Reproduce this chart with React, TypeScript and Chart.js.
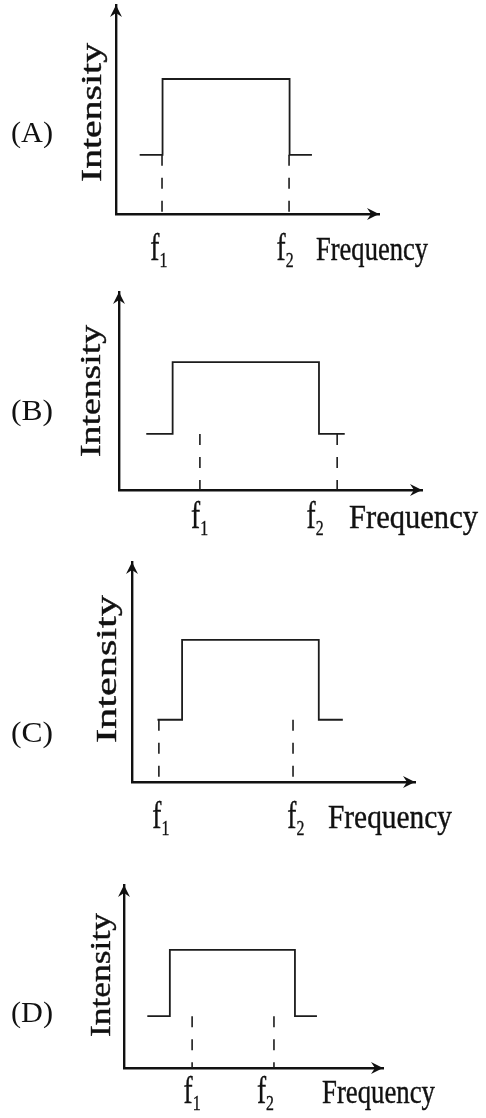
import React, { useEffect, useRef } from "react";
import { Chart, registerables } from "chart.js";

Chart.register(...registerables);

// Band shape shared by every panel: a low shoulder, a step up to a flat top, and back down.
const stepFrequency = [9, 17.7, 17.7, 66, 66, 74.5];
const stepIntensity = [28.3, 28.3, 64.6, 64.6, 28.3, 28.3];
const shoulderLevel = 28.3;

// Where f1 and f2 sit in each option, and where their labels are printed.
const panelNames = ["(A)", "(B)", "(C)", "(D)"];
const f1Marks = [17.5, 26.7, 9.5, 26.3];
const f2Marks = [65.8, 72.0, 56.9, 57.9];
const f1LabelAt = [16.3, 26.6, 10.2, 26.3];
const f2LabelAt = [64.3, 64.7, 57.9, 54.6];
const tickSubscripts = ["1", "2"];
const xTitle = "Frequency";
const yTitle = "Intensity";

const PAGE_W = 486;
const SERIF = '"Liberation Serif", "Times New Roman", serif';
const INK = "#111";

// Page geometry of each panel (canvas strip, axis box, text placement).
const layouts = [
  { top: 0, height: 280, left: 116, right: 379, axisTop: 5, axisBottom: 214, nameBase: 142, labelBase: 260, titleX: 316, titleW: 112, yTitleX: 101, yTitleMid: 112.5, yTitleLen: 139 },
  { top: 280, height: 280, left: 119, right: 422, axisTop: 292, axisBottom: 490, nameBase: 420, labelBase: 528, titleX: 349, titleW: 129, yTitleX: 100, yTitleMid: 391, yTitleLen: 132 },
  { top: 560, height: 300, left: 132, right: 415, axisTop: 562, axisBottom: 782, nameBase: 742, labelBase: 828, titleX: 328, titleW: 124, yTitleX: 116, yTitleMid: 669, yTitleLen: 148 },
  { top: 860, height: 258, left: 124, right: 383, axisTop: 885, axisBottom: 1068, nameBase: 1022, labelBase: 1103, titleX: 322, titleW: 113, yTitleX: 110, yTitleMid: 975, yTitleLen: 124 },
];

// Axis text is filled and given a hairline stroke so it carries the weight of printed type.
function inkText(ctx: CanvasRenderingContext2D, text: string, x: number, y: number, heavy: boolean) {
  ctx.fillText(text, x, y);
  if (heavy) ctx.strokeText(text, x, y);
}

function drawFitted(ctx: CanvasRenderingContext2D, text: string, font: string, x: number, base: number, width: number, heavy: boolean) {
  ctx.save();
  ctx.font = font;
  ctx.textAlign = "left";
  ctx.textBaseline = "alphabetic";
  const w = ctx.measureText(text).width;
  ctx.translate(x, base);
  ctx.scale(width / w, 1);
  inkText(ctx, text, 0, 0, heavy);
  ctx.restore();
}

function drawSubscripted(ctx: CanvasRenderingContext2D, main: string, sub: string, cx: number, base: number) {
  const mainFont = `38px ${SERIF}`;
  const subFont = `22px ${SERIF}`;
  const squeeze = 0.72;
  ctx.save();
  ctx.textAlign = "left";
  ctx.textBaseline = "alphabetic";
  ctx.font = mainFont;
  const mw = ctx.measureText(main).width;
  ctx.font = subFont;
  const sw = ctx.measureText(sub).width;
  const total = (mw + sw) * squeeze;
  ctx.translate(cx - total / 2, base);
  ctx.scale(squeeze, 1);
  ctx.font = mainFont;
  inkText(ctx, main, 0, 0, true);
  ctx.font = subFont;
  inkText(ctx, sub, mw, 7, true);
  ctx.restore();
}

function arrowHead(ctx: CanvasRenderingContext2D, x: number, y: number, dir: "up" | "right") {
  const len = 12;
  const half = 6;
  const notch = 8;
  ctx.beginPath();
  if (dir === "right") {
    ctx.moveTo(x, y);
    ctx.lineTo(x - len, y - half);
    ctx.lineTo(x - notch, y);
    ctx.lineTo(x - len, y + half);
  } else {
    ctx.moveTo(x, y);
    ctx.lineTo(x - half, y + len);
    ctx.lineTo(x, y + notch);
    ctx.lineTo(x + half, y + len);
  }
  ctx.closePath();
  ctx.fill();
}

function decorations(i: number) {
  return {
    id: "bandDecor" + i,
    afterDraw(chart: any) {
      const ctx: CanvasRenderingContext2D = chart.ctx;
      const L = layouts[i];
      const { left, right, top, bottom } = chart.chartArea;
      const xs = chart.scales.x;
      ctx.save();
      ctx.fillStyle = INK;
      ctx.strokeStyle = INK;
      ctx.lineWidth = 0.4;

      arrowHead(ctx, left, top, "up");
      arrowHead(ctx, right, bottom, "right");

      const base = L.labelBase - L.top;
      drawSubscripted(ctx, "f", tickSubscripts[0], xs.getPixelForValue(f1LabelAt[i]), base);
      drawSubscripted(ctx, "f", tickSubscripts[1], xs.getPixelForValue(f2LabelAt[i]), base);
      drawFitted(ctx, xTitle, `33px ${SERIF}`, L.titleX, base, L.titleW, true);

      ctx.save();
      ctx.translate(L.yTitleX, L.yTitleMid - L.top);
      ctx.rotate(-Math.PI / 2);
      ctx.font = `29px ${SERIF}`;
      ctx.textAlign = "center";
      ctx.textBaseline = "alphabetic";
      const w = ctx.measureText(yTitle).width;
      ctx.scale(L.yTitleLen / w, 1);
      inkText(ctx, yTitle, 0, 0, true);
      ctx.restore();

      drawFitted(ctx, panelNames[i], `29px ${SERIF}`, 11, L.nameBase - L.top, 42, false);
      ctx.restore();
    },
  };
}

function Panel({ index }: { index: number }) {
  const ref = useRef<HTMLCanvasElement>(null);
  const L = layouts[index];

  useEffect(() => {
    const canvas = ref.current;
    if (!canvas) return;
    const marker = (f: number) => [
      { x: f, y: shoulderLevel },
      { x: f, y: 0 },
    ];
    const axis = {
      type: "linear" as const,
      min: 0,
      max: 100,
      display: true,
      ticks: { display: false },
      grid: { display: false, drawTicks: false },
      border: { display: true, color: INK, width: 2.4 },
      title: { display: false },
    };
    const chart = new Chart(canvas, {
      type: "line",
      data: {
        datasets: [
          {
            label: "band",
            data: stepFrequency.map((x, k) => ({ x, y: stepIntensity[k] })),
            borderColor: "#1c1c1c",
            borderWidth: 1.8,
            pointRadius: 0,
            fill: false,
            tension: 0,
          },
          {
            label: "f1",
            data: marker(f1Marks[index]),
            borderColor: "#1c1c1c",
            borderWidth: 1.6,
            borderDash: [11, 12],
            pointRadius: 0,
            fill: false,
          },
          {
            label: "f2",
            data: marker(f2Marks[index]),
            borderColor: "#1c1c1c",
            borderWidth: 1.6,
            borderDash: [11, 12],
            pointRadius: 0,
            fill: false,
          },
        ],
      },
      options: {
        animation: false,
        responsive: false,
        devicePixelRatio: 1,
        layout: {
          autoPadding: false,
          padding: {
            left: L.left,
            right: PAGE_W - L.right,
            top: L.axisTop - L.top,
            bottom: L.top + L.height - L.axisBottom,
          },
        },
        plugins: { legend: { display: false }, tooltip: { enabled: false } },
        scales: { x: axis, y: axis },
      },
      plugins: [decorations(index)],
    });
    return () => chart.destroy();
  }, [index]);

  return (
    <canvas
      ref={ref}
      width={PAGE_W}
      height={L.height}
      style={{ position: "absolute", left: 0, top: L.top, width: PAGE_W, height: L.height }}
    />
  );
}

export default function App() {
  return (
    <div style={{ position: "absolute", left: 0, top: 0, width: PAGE_W, height: 1118, background: "#fff", overflow: "hidden" }}>
      {panelNames.map((_, i) => (
        <Panel key={i} index={i} />
      ))}
    </div>
  );
}
